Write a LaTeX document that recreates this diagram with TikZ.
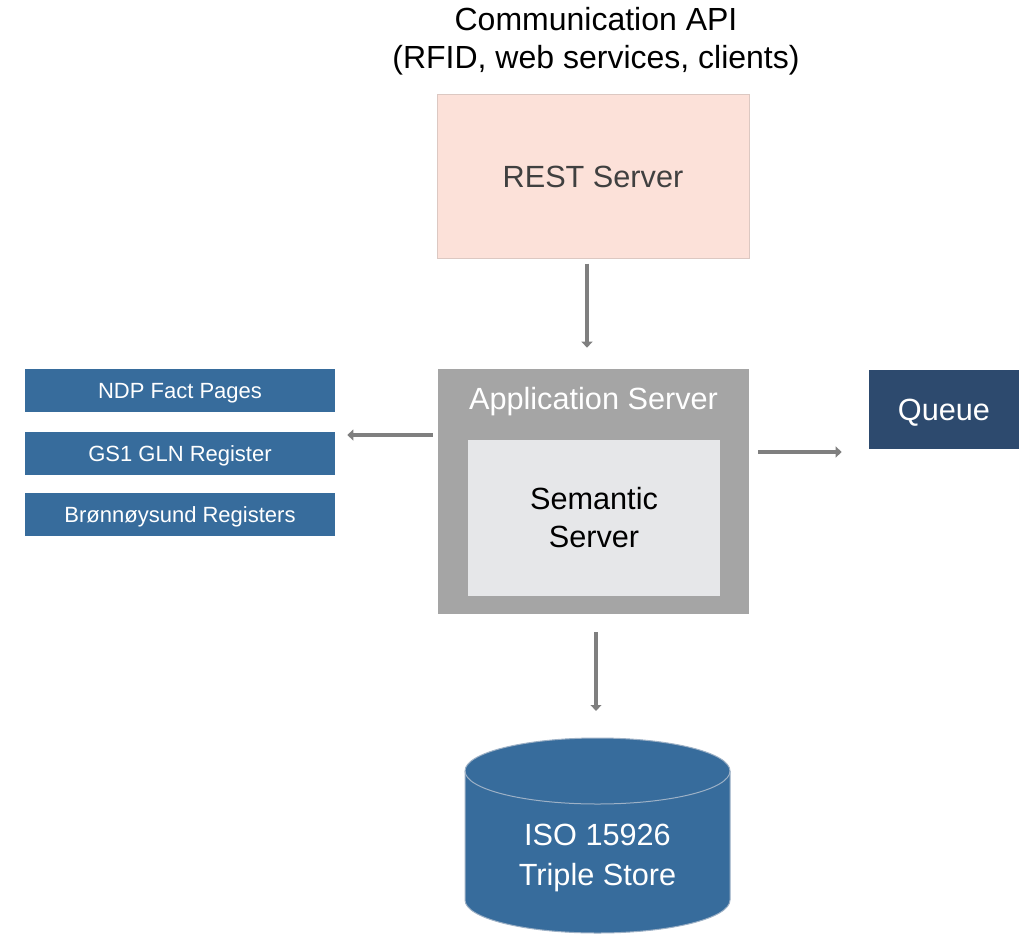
\documentclass[tikz,border=0pt]{standalone}
\usepackage{fontspec}
\setmainfont{Liberation Sans}
\usetikzlibrary{arrows.meta}
\usetikzlibrary{calc}
\definecolor{restpink}{HTML}{FCE1D9}
\definecolor{restedge}{HTML}{DCC8C2}
\definecolor{resttext}{HTML}{404040}
\definecolor{appgray}{HTML}{A5A5A5}
\definecolor{semgray}{HTML}{E6E7E9}
\definecolor{regblue}{HTML}{376C9C}
\definecolor{queueblue}{HTML}{2D4A6E}
\definecolor{flowgray}{HTML}{7F7F7F}
\definecolor{dbedge}{HTML}{9DB1C6}
\tikzstyle{TitleText}=[font=\fontsize{24}{28.5}\selectfont, align=center]
\tikzstyle{BigText}=[font=\fontsize{23}{28.5}\selectfont, align=center]
\tikzstyle{ServerNode}=[rectangle, BigText, inner sep=0pt]
\tikzstyle{RegisterNode}=[rectangle, fill=regblue, text=white, inner sep=0pt, text depth=0pt, minimum width=232.5pt, minimum height=32.25pt, font=\fontsize{16.5}{20}\selectfont]
\tikzstyle{QueueNode}=[ServerNode, fill=queueblue, text=white, text depth=0pt]
\tikzstyle{FlowEdge}=[-{Triangle[width=8pt,length=4.5pt]}, line width=3pt, flowgray]
\tikzset{x=0.75pt, y=0.75pt}

\begin{document}
\begin{tikzpicture}
\useasboundingbox (0,0) rectangle (1023,-934);

\node[TitleText](title) at (596,-41) {Communication API\\(RFID, web services, clients)};
\node[ServerNode, fill=restpink, draw=restedge, line width=0.75pt, text=resttext, minimum width=234pt, minimum height=122.25pt](rest) at (593,-176.5) {REST Server};
\node[ServerNode, fill=appgray, minimum width=233.25pt, minimum height=183.75pt](app) at (593.5,-491.5) {};
\node[BigText, text=white](applabel) at (593.5,-402) {Application Server};
\node[ServerNode, fill=semgray, minimum width=189pt, minimum height=117pt](sem) at (594,-518) {Semantic\\Server};

\node[RegisterNode](ndp) at (180,-390.5) {NDP Fact Pages};
\node[RegisterNode](gs1) at (180,-453.5) {GS1 GLN Register};
\node[RegisterNode](brreg) at (180,-514.5) {Brønnøysund Registers};

\node[QueueNode, minimum width=112.5pt, minimum height=59.25pt](queue) at (944,-409.5) {Queue};

% triple store drum
\fill[regblue, draw=dbedge, line width=0.75pt] (465,-771) -- (465,-900)
  arc[start angle=180, end angle=360, x radius=99.375pt, y radius=24.75pt] -- (730,-771)
  arc[start angle=0, end angle=180, x radius=99.375pt, y radius=24.75pt] -- cycle;
\draw[dbedge, line width=0.75pt] (465,-771) arc[start angle=180, end angle=360, x radius=99.375pt, y radius=24.75pt];
\coordinate(dbtop) at (597.5,-738);
\node[BigText, text=white, font=\fontsize{23}{30}\selectfont](store) at (597.5,-858) {ISO 15926\\Triple Store};

\draw[FlowEdge] ($(rest.south)+(-6,-5)$) -- ($(app.north)+(-6.5,21)$);
\draw[FlowEdge] ($(app.west)+(-5,56.5)$) -- ($(gs1.east)+(12,18.5)$);
\draw[FlowEdge] ($(app.east)+(9,39.5)$) -- ($(queue.west)+(-27,-42.5)$);
\draw[FlowEdge] ($(app.south)+(2.5,-18)$) -- ($(dbtop)+(-1.5,27)$);
\end{tikzpicture}
\end{document}
